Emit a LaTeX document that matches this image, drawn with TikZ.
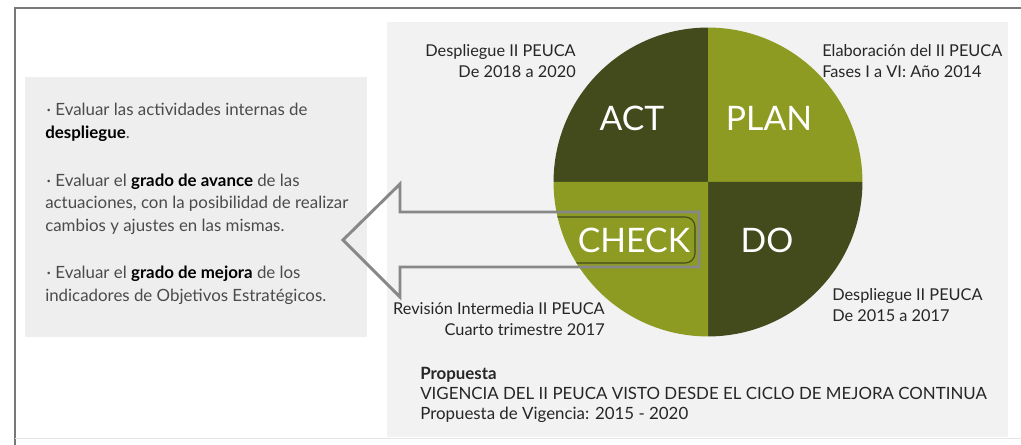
\documentclass[tikz,border=0pt]{standalone}
\usepackage{fontspec}
\setmainfont{Lato}
\usetikzlibrary{positioning}

\definecolor{olivedark}{RGB}{67,75,29}
\definecolor{olivelight}{RGB}{142,155,35}
\definecolor{panelgray}{RGB}{242,242,242}
\definecolor{boxgray}{RGB}{238,238,238}
\definecolor{framegray}{RGB}{120,120,120}
\definecolor{arrowgray}{RGB}{136,136,136}
\definecolor{textgray}{RGB}{75,75,75}

\tikzset{
	quadlabel/.style={text=white, inner sep=0pt, font=\fontsize{24}{28}\selectfont},
	phaselabel/.style={text=black!85, inner sep=0pt, font=\fontsize{11.6}{15}\selectfont},
	arrowline/.style={draw=arrowgray, line width=2.1pt, line join=miter},
}

\begin{document}
\begin{tikzpicture}[x=0.025cm, y=-0.025cm]
	\useasboundingbox (0,0) rectangle (1021,445);
	\fill [white] (0,0) rectangle (1021,445);

	% frame and panels
	\draw [framegray, line width=1pt] (15,445) -- (15,8) -- (1021,8);
	\draw [black!10, line width=0.6pt] (15,438) -- (1021,438);
	\fill [panelgray] (387,22) rectangle (1008,437);
	\fill [boxgray] (25,77) rectangle (367,337);

	% PDCA circle
	\coordinate (O) at (708,182);
	\fill [olivedark] (O) -- ++(-3.86cm,0pt) arc [start angle=180, end angle=90, radius=3.86cm] -- cycle;
	\fill [olivelight] (O) -- ++(3.86cm,0pt) arc [start angle=0, end angle=90, radius=3.86cm] -- cycle;
	\fill [olivedark] (O) -- ++(3.86cm,0pt) arc [start angle=0, end angle=-90, radius=3.86cm] -- cycle;
	\fill [olivelight] (O) -- ++(-3.86cm,0pt) arc [start angle=180, end angle=270, radius=3.86cm] -- cycle;

	\begin{scope}
		\clip (O) circle [radius=3.86cm];
		\draw [olivedark, line width=0.8pt, rounded corners=7pt] (540,217) -- (695,217) -- (695,263) -- (540,263);
	\end{scope}

	\node [quadlabel] (act) at (632,118) {ACT};
	\node [quadlabel] (plan) at (769,118) {PLAN};
	\node [quadlabel] (check) at (634,240) {CHECK};
	\node [quadlabel] (do) at (767,240) {DO};

	% arrow out of CHECK
	\draw [arrowline] (699,212) -- (400,212) -- (400,184) -- (343,240) -- (400,297) -- (400,267) -- (699,267) -- cycle;

	% phase notes
	\node [phaselabel, anchor=north east, align=right] (actnote) at (576,44) {Despliegue II PEUCA\\De 2018 a 2020};
	\node [phaselabel, anchor=north west, align=left] (plannote) at (822,44) {Elaboración del II PEUCA\\Fases I a VI: Año 2014};
	\node [phaselabel, anchor=north west, align=left] (donote) at (832,288) {Despliegue II PEUCA\\De 2015 a 2017};
	\node [phaselabel, anchor=north east, align=right] (checknote) at (605,302) {Revisión Intermedia II PEUCA\\Cuarto trimestre 2017};

	\node [phaselabel, anchor=north west, align=left, font=\fontsize{12}{14.2}\selectfont] (proposal) at (420,367)
		{\textbf{Propuesta}\\VIGENCIA DEL II PEUCA VISTO DESDE EL CICLO DE MEJORA CONTINUA\\Propuesta de Vigencia: 2015 - 2020};

	% evaluation text
	\node [anchor=north west, align=left, inner sep=0pt, text=textgray, font=\fontsize{12}{16}\selectfont] (evaltext) at (45,103)
		{\hspace{1pt}· Evaluar las actividades internas de\\
		\textcolor{black}{\bfseries despliegue}.\\[18pt]
		\hspace{1pt}· Evaluar el \textcolor{black}{\bfseries grado de avance} de las\\
		actuaciones, con la posibilidad de realizar\\
		cambios y ajustes en las mismas.\\[18pt]
		\hspace{1pt}· Evaluar el \textcolor{black}{\bfseries grado de mejora} de los\\
		indicadores de Objetivos Estratégicos.};
\end{tikzpicture}
\end{document}
